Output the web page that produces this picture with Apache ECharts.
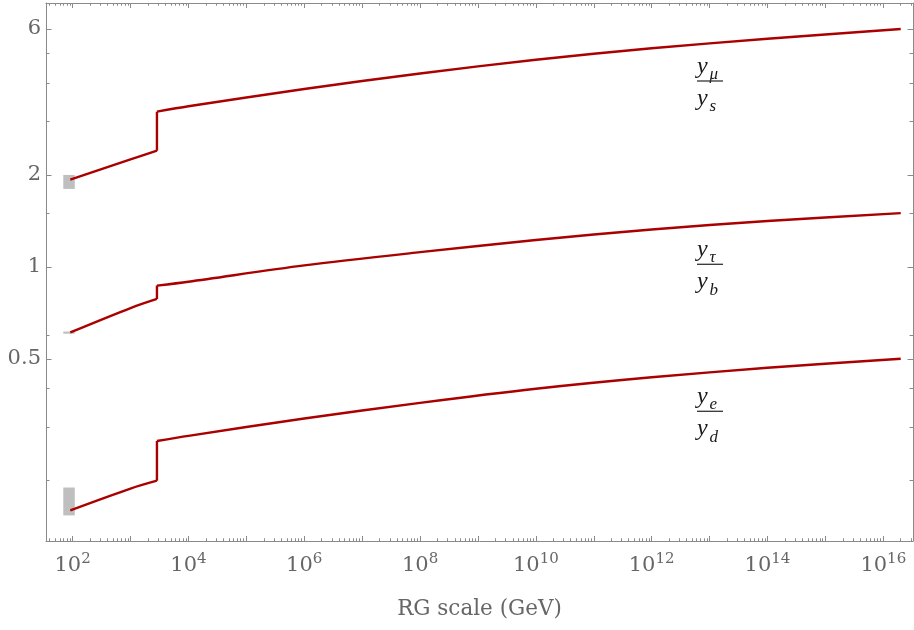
<!DOCTYPE html>
<html>
<head>
<meta charset="utf-8">
<script src="https://cdn.jsdelivr.net/npm/echarts@6/dist/echarts.min.js"></script>
<style>
html,body{margin:0;padding:0;background:#fff;}
#chart{width:914px;height:630px;}
</style>
</head>
<body>
<div id="chart"></div>
<script>
// RG scale points (GeV); the threshold jump appears twice (index 2 and 3)
const energies = [91.2, 1000, 2860, 2860, 1e4, 1e6, 1e8, 1e10, 1e12, 1e14, 2e16];
const ratioMuS  = [1.93, 2.25, 2.40, 3.22, 3.354, 3.82, 4.295, 4.76, 5.19, 5.575, 6.00];
const ratioTauB = [0.611, 0.734, 0.786, 0.869, 0.895, 1.012, 1.118, 1.225, 1.326, 1.414, 1.50];
const ratioED   = [0.160, 0.1885, 0.200, 0.2696, 0.2803, 0.3195, 0.3594, 0.3997, 0.4358, 0.468, 0.501];
const JUMP = 2; // index of the point just below the threshold

// low-scale uncertainty bands (gray boxes)
const bandX    = [69, 109];
const bandMuS  = [1.80, 2.00];
const bandTauB = [0.605, 0.615];
const bandED   = [0.154, 0.190];

// axis ticks
const xLabelValues = [1e2, 1e4, 1e6, 1e8, 1e10, 1e12, 1e14, 1e16];
const xMajorTicks = [1e2,1e3,1e4,1e5,1e6,1e7,1e8,1e9,1e10,1e11,1e12,1e13,1e14,1e15,1e16];
const yLabelValues = [0.5, 1, 2, 6];
const yMinorTicks = [0.2, 0.3, 0.4, 0.6, 1.5, 3, 4, 5];

const X_MIN = 34.7, X_MAX = 3.26e16;
const Y_MIN = 0.127, Y_MAX = 7.3;

const xMinorTicks = [];
for (let n = 1; n <= 16; n++) {
  for (let k = 2; k <= 9; k++) {
    const v = k * Math.pow(10, n);
    if (v > X_MIN && v < X_MAX) xMinorTicks.push(v);
  }
}

const AX = '#8a8a8a';
const LBL = '#666666';
const SERIF = 'DejaVu Serif';
const RED = '#aa0000';

function pairs(ys, a, b) {
  const out = [];
  for (let i = a; i <= b; i++) out.push([energies[i], ys[i]]);
  return out;
}

function xAxisDef(pos, ticks, len, withLabels, withLine) {
  return {
    type: 'log', logBase: 10, min: X_MIN, max: X_MAX, position: pos,
    axisLine: { show: withLine, lineStyle: { color: AX, width: 1 } },
    axisTick: { show: true, inside: true, length: len, customValues: ticks, lineStyle: { color: AX, width: 1 } },
    axisLabel: withLabels ? {
      show: true, customValues: xLabelValues, margin: 11,
      formatter: function (v) { return '{b|10}{s|' + Math.round(Math.log10(v)) + '}'; },
      rich: {
        b: { fontSize: 21, fontFamily: SERIF, color: LBL, lineHeight: 24, verticalAlign: 'bottom' },
        s: { fontSize: 15, fontFamily: SERIF, color: LBL, lineHeight: 15, verticalAlign: 'top' }
      }
    } : { show: false },
    splitLine: { show: false }, minorTick: { show: false }, minorSplitLine: { show: false }
  };
}
function yAxisDef(pos, ticks, len, withLabels, withLine) {
  return {
    type: 'log', logBase: 10, min: Y_MIN, max: Y_MAX, position: pos,
    axisLine: { show: withLine, lineStyle: { color: AX, width: 1 } },
    axisTick: { show: true, inside: true, length: len, customValues: ticks, lineStyle: { color: AX, width: 1 } },
    axisLabel: withLabels ? {
      show: true, customValues: yLabelValues, margin: 5,
      fontSize: 21, fontFamily: SERIF, color: LBL,
      formatter: function (v) { return String(v); }
    } : { show: false },
    splitLine: { show: false }, minorTick: { show: false }, minorSplitLine: { show: false }
  };
}

const xAxes = [
  xAxisDef('bottom', xMajorTicks, 5, true, true),
  xAxisDef('bottom', xMinorTicks, 2.7, false, false),
  xAxisDef('top', xMajorTicks, 5, false, true),
  xAxisDef('top', xMinorTicks, 2.7, false, false)
];
xAxes[0].name = 'RG scale (GeV)';
xAxes[0].nameLocation = 'middle';
xAxes[0].nameGap = 57;
xAxes[0].nameTextStyle = { fontSize: 21.5, fontFamily: SERIF, color: LBL };

const yAxes = [
  yAxisDef('left', yLabelValues, 5.5, true, true),
  yAxisDef('left', yMinorTicks, 3.5, false, false),
  yAxisDef('right', yLabelValues, 5.5, false, true),
  yAxisDef('right', yMinorTicks, 3.5, false, false)
];

function band(yr) {
  return [{ coord: [bandX[0], yr[0]] }, { coord: [bandX[1], yr[1]] }];
}

function curveSeries(name, ys) {
  const base = { type: 'line', xAxisIndex: 0, yAxisIndex: 0, symbol: 'none', z: 3,
    lineStyle: { color: RED, width: 2.4 }, itemStyle: { color: RED } };
  return [
    Object.assign({ name: name, data: pairs(ys, 0, JUMP), smooth: 0.3 }, base),
    Object.assign({ name: name, data: pairs(ys, JUMP, JUMP + 1), smooth: false }, base),
    Object.assign({ name: name, data: pairs(ys, JUMP + 1, energies.length - 1), smooth: 0.3 }, base)
  ];
}

// fraction annotations
const fracX = 697, fracW = 26;
function fraction(barY, num, den) {
  const F = 24, f = 17;
  const main = { fontFamily: 'Liberation Serif', fontStyle: 'italic', fill: '#1a1a1a' };
  return [
    { type: 'text', style: Object.assign({ text: 'y', x: fracX, y: barY - 14.8, fontSize: F, align: 'left', verticalAlign: 'middle' }, main) },
    { type: 'text', style: Object.assign({ text: num, x: fracX + 12.5, y: barY - 6.5, fontSize: f, align: 'left', verticalAlign: 'middle' }, main) },
    { type: 'line', shape: { x1: fracX, y1: barY, x2: fracX + fracW, y2: barY }, style: { stroke: '#333', lineWidth: 1.3 } },
    { type: 'text', style: Object.assign({ text: 'y', x: fracX, y: barY + 17.4, fontSize: F, align: 'left', verticalAlign: 'middle' }, main) },
    { type: 'text', style: Object.assign({ text: den, x: fracX + 12.5, y: barY + 26, fontSize: f, align: 'left', verticalAlign: 'middle' }, main) }
  ];
}

const option = {
  animation: false,
  backgroundColor: '#ffffff',
  grid: { left: 46, right: 1, top: 3, bottom: 89, containLabel: false, outerBoundsMode: 'none' },
  xAxis: xAxes,
  yAxis: yAxes,
  series: [
    {
      name: 'bands', type: 'line', data: [], xAxisIndex: 0, yAxisIndex: 0, z: 1,
      markArea: {
        silent: true,
        itemStyle: { color: '#bfbfbf', opacity: 1 },
        data: [band(bandMuS), band(bandTauB), band(bandED)]
      }
    }
  ].concat(
    curveSeries('y_mu/y_s', ratioMuS),
    curveSeries('y_tau/y_b', ratioTauB),
    curveSeries('y_e/y_d', ratioED)
  ),
  graphic: [].concat(
    fraction(81, 'μ', 's'),
    fraction(264.3, 'τ', 'b'),
    fraction(411.3, 'e', 'd')
  )
};

const chart = echarts.init(document.getElementById('chart'), null, { renderer: 'canvas' });
chart.setOption(option);
</script>
</body>
</html>
